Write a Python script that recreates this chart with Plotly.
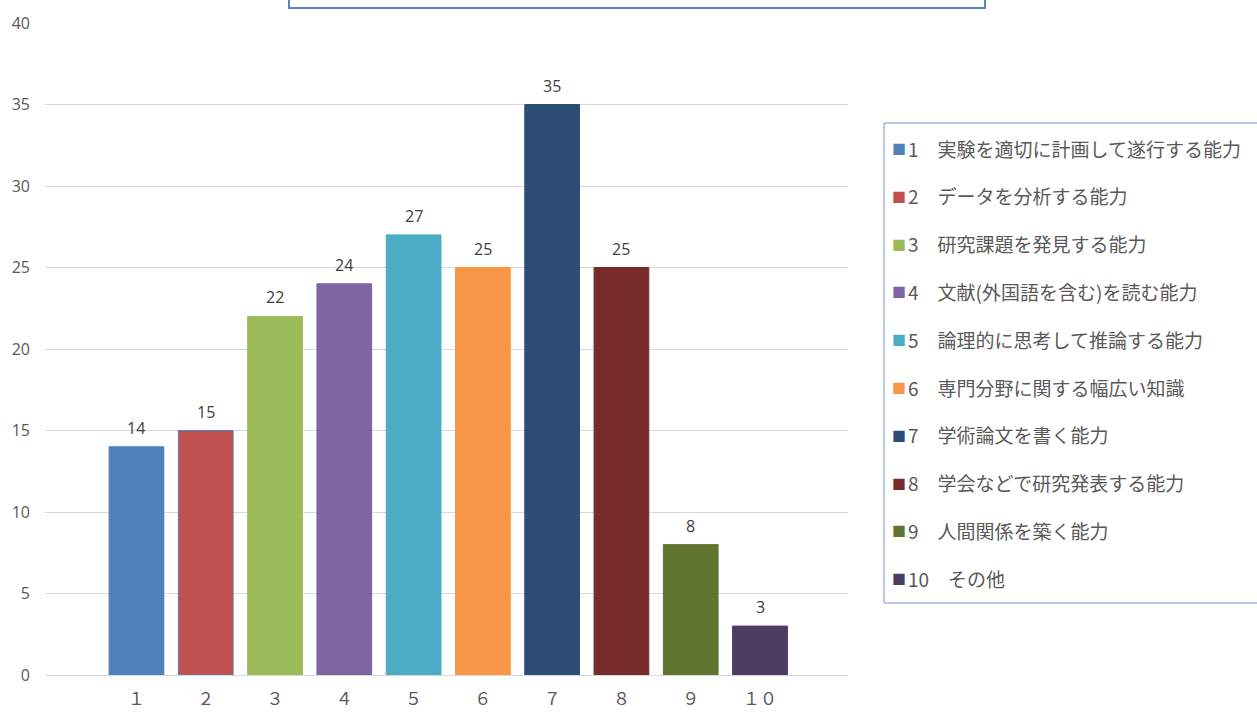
import plotly.graph_objects as go

categories = ["１", "２", "３", "４", "５", "６", "７", "８", "９", "１０"]
legend_nums = ["1", "2", "3", "4", "5", "6", "7", "8", "9", "10"]
labels = [
    "実験を適切に計画して遂行する能力",
    "データを分析する能力",
    "研究課題を発見する能力",
    "文献(外国語を含む)を読む能力",
    "論理的に思考して推論する能力",
    "専門分野に関する幅広い知識",
    "学術論文を書く能力",
    "学会などで研究発表する能力",
    "人間関係を築く能力",
    "その他",
]
values = [14, 15, 22, 24, 27, 25, 35, 25, 8, 3]
colors = ["#4F81BD", "#C0504D", "#9BBB59", "#8064A2", "#4BACC6",
          "#F79646", "#2C4D75", "#772C2A", "#5F7530", "#4D3B62"]

FONT = "Noto Sans CJK JP"
W, H = 1257, 712
L, R, T, B = 45, 409, 23, 37
PW, PH = W - L - R, H - T - B


def px(x):
    return (x - L) / PW


def py(y):
    return (H - B - y) / PH


fig = go.Figure()
for i, (cat, lab, v, c) in enumerate(zip(categories, labels, values, colors)):
    fig.add_trace(go.Bar(
        x=[i + 1], y=[v], name=f"{legend_nums[i]}　{lab}",
        marker=dict(color=c, line=dict(color="#4F81BD" if i == 1 else c, width=1)),
        width=0.79,
        showlegend=False,
    ))
    fig.add_annotation(x=i + 1, y=v, text=str(v), showarrow=False,
                       yshift=19, xref="x", yref="y",
                       font=dict(family="Open Sans", size=16, color="#404040"))

# legend (manual, to match the tight marker/text spacing)
leg_top, leg_bot, leg_left = 123, 603, 884
fig.add_shape(type="rect", xref="paper", yref="paper",
              x0=px(leg_left), x1=px(1275), y0=py(leg_bot), y1=py(leg_top),
              line=dict(color="#7396CC", width=1), fillcolor="white", layer="below")
for i, (n, lab, c) in enumerate(zip(legend_nums, labels, colors)):
    yc = 148 + i * 47.8
    fig.add_annotation(xref="paper", yref="paper", x=px(890), y=py(yc),
                       xanchor="left", yanchor="middle", showarrow=False,
                       text="■", font=dict(family=FONT, size=14, color=c))
    fig.add_annotation(xref="paper", yref="paper", x=px(906), y=py(yc),
                       xanchor="left", yanchor="middle", showarrow=False,
                       text=f"{n}　{lab}",
                       font=dict(family=FONT, size=19, color="#595959"))

fig.update_layout(
    width=W, height=H,
    margin=dict(l=L, r=R, t=T, b=B, autoexpand=False),
    plot_bgcolor="white", paper_bgcolor="white",
    showlegend=False,
    xaxis=dict(
        range=[-0.32, 11.27], tickmode="array",
        tickvals=list(range(1, 11)), ticktext=categories,
        showgrid=False, zeroline=False, showline=True, linecolor="#D9D9D9",
        tickfont=dict(family=FONT, size=17, color="#595959"),
        ticks="outside", ticklen=9, tickcolor="rgba(0,0,0,0)",
    ),
    yaxis=dict(
        range=[0, 40], dtick=5, gridcolor="#D9D9D9", zeroline=False,
        tickfont=dict(family="Open Sans", size=16, color="#595959"),
        ticklabelstandoff=14,
    ),
)

fig.add_shape(type="rect", xref="paper", yref="paper",
              x0=px(289), x1=px(985), y0=py(8), y1=py(-40),
              line=dict(color="#5B84C4", width=2), fillcolor="rgba(0,0,0,0)")

fig.write_html("out.html",
               config={"displayModeBar": False},
               post_script="document.body.style.margin='0px';document.body.style.overflow='hidden';")
